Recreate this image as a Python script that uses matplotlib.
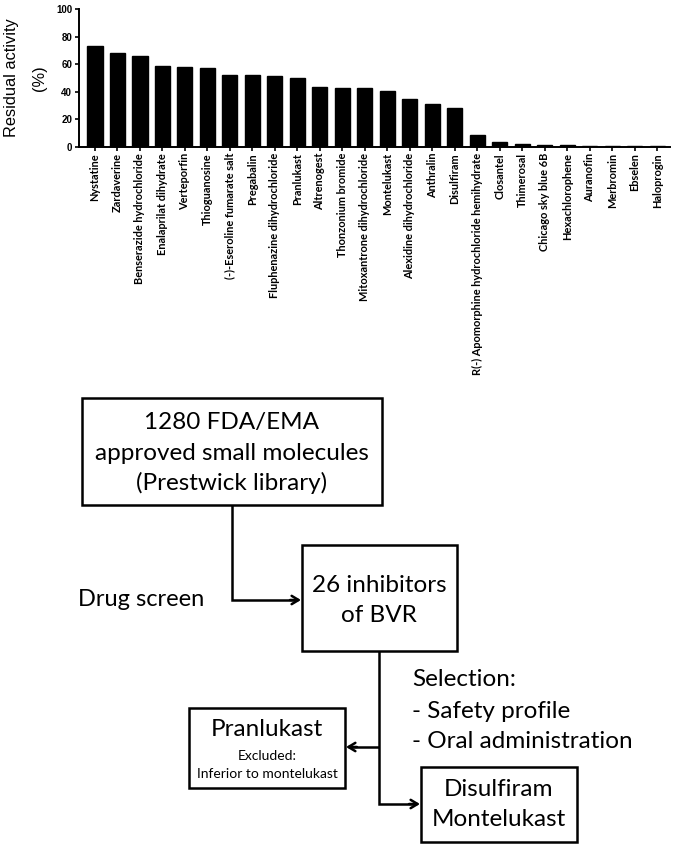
import matplotlib
matplotlib.use('Agg')
import matplotlib.pyplot as plt
from matplotlib.patches import Rectangle

compounds = ['Nystatine', 'Zardaverine', 'Benserazide hydrochloride', 'Enalaprilat dihydrate',
             'Verteporfin', 'Thioguanosine', '(-)-Eseroline fumarate salt', 'Pregabalin',
             'Fluphenazine dihydrochloride', 'Pranlukast', 'Altrenogest', 'Thonzonium bromide',
             'Mitoxantrone dihydrochloride', 'Montelukast', 'Alexidine dihydrochloride',
             'Anthralin', 'Disulfiram', 'R(-) Apomorphine hydrochloride hemihydrate',
             'Closantel', 'Thimerosal', 'Chicago sky blue 6B', 'Hexachlorophene',
             'Auranofin', 'Merbromin', 'Ebselen', 'Haloprogin']
residual = [73.1, 67.8, 65.9, 58.6, 57.7, 56.9, 51.8, 51.8, 51.1, 49.7, 43.1, 42.6,
            42.6, 40.2, 34.6, 30.8, 27.9, 8.7, 3.2, 1.7, 1.2, 1.2, 0.3, 0.3, 0.3, 0.3]
y_ticks = [0, 20, 40, 60, 80, 100]

W, H = 675, 848
fig = plt.figure(figsize=(W / 100, H / 100), dpi=100)

# bar chart
ax = fig.add_axes([79 / W, 1 - 146.7 / H, (670 - 79) / W, (146.7 - 9) / H])
x = list(range(len(compounds)))
ax.bar(x, residual, width=0.67, color='black', edgecolor='black')
ax.set_xlim(-0.71, 25.56)
ax.set_ylim(0, 100)
ax.set_yticks(y_ticks)
ax.set_yticklabels([str(t) for t in y_ticks], fontsize=7, fontweight='bold', family='Liberation Sans')
ax.set_xticks(x)
ax.set_xticklabels(compounds, rotation=90, fontsize=7.9, family='Lato', fontweight='bold')
ax.tick_params(axis='x', length=3, width=1.2, pad=1.5)
ax.tick_params(axis='y', length=3, width=1.2, pad=2)
for s in ['top', 'right']:
    ax.spines[s].set_visible(False)
for s in ['left', 'bottom']:
    ax.spines[s].set_linewidth(1.4)
fig.text(12 / W, 1 - 78 / H, 'Residual activity', rotation=90, ha='center', va='center',
         fontsize=11.8, family='Liberation Sans')
fig.text(40 / W, 1 - 78 / H, '(%)', rotation=90, ha='center', va='center',
         fontsize=11.8, family='Liberation Sans')

# flowchart, laid out in pixel units
fa = fig.add_axes([0, 0, 1, 1], zorder=-1)
fa.set_xlim(0, W)
fa.set_ylim(H, 0)
fa.axis('off')

boxes = [(82, 398, 382, 505), (302, 545, 457, 651), (189, 708, 345, 788), (421, 767, 577, 842)]
for l, t, r, b in boxes:
    fa.add_patch(Rectangle((l, t), r - l, b - t, fill=False, lw=1.8, edgecolor='black'))

font = 'Lato'
big = 17.5
for txt, yy in [('1280 FDA/EMA', 423), ('approved small molecules', 453), ('(Prestwick library)', 483)]:
    fa.text(232, yy, txt, ha='center', va='center', fontsize=big, family=font)
for txt, yy in [('26 inhibitors', 585), ('of BVR', 616)]:
    fa.text(379, yy, txt, ha='center', va='center', fontsize=big, family=font)
fa.text(78, 600, 'Drug screen', ha='left', va='center', fontsize=17, family=font)
fa.text(267, 730, 'Pranlukast', ha='center', va='center', fontsize=big, family=font)
fa.text(267, 756, 'Excluded:', ha='center', va='center', fontsize=10, family=font)
fa.text(267, 774, 'Inferior to montelukast', ha='center', va='center', fontsize=10, family=font)
fa.text(499, 789, 'Disulfiram', ha='center', va='center', fontsize=big, family=font)
fa.text(499, 820, 'Montelukast', ha='center', va='center', fontsize=big, family=font)
for txt, yy in [('Selection:', 680), ('- Safety profile', 711), ('- Oral administration', 742)]:
    fa.text(412, yy, txt, ha='left', va='center', fontsize=big, family=font)

lk = dict(color='black', lw=1.8, solid_capstyle='butt', solid_joinstyle='miter')
fa.plot([232, 232, 296], [505, 600, 600], **lk)
fa.plot([379, 379, 415], [651, 804, 804], **lk)
fa.plot([379, 351], [747, 747], **lk)
arrow = dict(arrowstyle='->,head_length=0.5,head_width=0.3', lw=1.8, color='black',
             shrinkA=0, shrinkB=0)
fa.annotate('', xy=(301, 600), xytext=(290, 600), arrowprops=arrow)
fa.annotate('', xy=(346, 747), xytext=(357, 747), arrowprops=arrow)
fa.annotate('', xy=(420, 804), xytext=(409, 804), arrowprops=arrow)

fig.savefig('out.png', dpi=100)
